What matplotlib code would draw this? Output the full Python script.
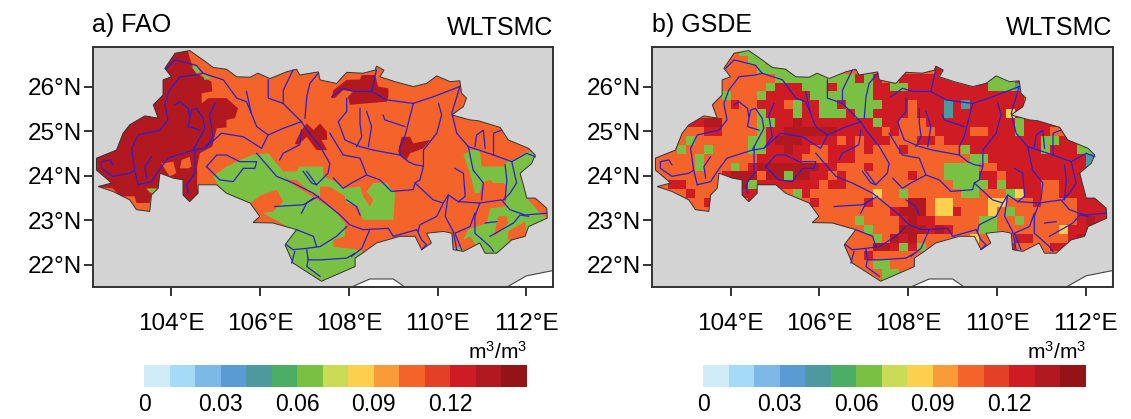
import matplotlib
matplotlib.use("Agg")
import matplotlib.pyplot as plt
import numpy as np
from matplotlib.colors import ListedColormap, BoundaryNorm
from matplotlib.patches import Polygon

plt.rcParams["font.family"] = ["Liberation Sans", "DejaVu Sans"]
plt.rcParams["mathtext.default"] = "regular"

# colour levels of the soil moisture scale
level_edges = np.arange(0, 0.151, 0.01)
level_colors = ["#D0ECF9", "#A5DBF6", "#7DB9E6", "#5A9BD5", "#4C9AA0", "#4BAE64", "#7AC143", "#CADB55",
                "#FBD04F", "#F89B38", "#F4632A", "#E34026", "#CF1C24", "#B2181F", "#941317"]
cbar_ticks = [0, 0.03, 0.06, 0.09, 0.12]
cbar_labels = ["0", "0.03", "0.06", "0.09", "0.12"]
lon_ticks = [104, 106, 108, 110, 112]
lat_ticks = [22, 23, 24, 25, 26]

# WLTSMC of the main classes
orange_val = 0.105
dark_val = 0.135
green_val = 0.065

# basin outline (lon, lat)
basin = [(103.85,26.42),(104.08,26.76),(104.41,26.82),(104.71,26.61),(104.94,26.44),(105.24,26.40),(105.47,26.23),
 (105.77,26.22),(105.95,26.31),(106.22,26.19),(106.59,26.34),(106.82,26.40),(106.89,26.27),(107.31,26.34),(107.35,26.16),
 (107.72,26.08),(107.95,26.33),(108.32,26.31),(108.59,26.38),(108.62,26.47),(108.79,26.38),(108.70,26.23),(109.04,26.12),
 (109.45,26.01),(109.75,26.08),(109.98,26.25),(110.28,26.12),(110.50,26.14),(110.54,25.86),(110.65,25.75),(110.58,25.56),
 (110.32,25.37),(110.73,25.26),(110.92,25.24),(111.41,25.09),(111.59,24.81),(112.05,24.62),(112.20,24.47),(112.12,24.28),
 (111.86,24.06),(112.01,23.50),(112.20,23.50),(112.46,23.27),(112.47,23.05),(112.05,22.86),(111.97,22.64),(111.67,22.56),
 (111.33,22.26),(111.07,22.26),(110.95,22.49),(110.58,22.30),(110.35,22.34),(110.32,22.71),(110.13,22.75),(109.75,22.71),
 (109.86,22.49),(109.64,22.34),(109.49,22.64),(109.15,22.64),(108.62,22.49),(108.36,22.30),(108.14,22.15),(108.14,21.96),
 (107.38,21.63),(106.74,22.04),(106.56,22.45),(106.82,22.79),(106.29,22.94),(105.84,22.95),(105.99,23.09),(105.77,23.39),
 (105.24,23.61),(105.02,23.80),(104.60,23.80),(104.60,23.61),(104.41,23.42),(104.26,23.57),(104.26,23.91),(104.04,23.95),
 (103.74,24.06),(103.70,23.72),(103.55,23.57),(103.51,23.20),(103.21,23.24),(103.06,23.46),(102.68,23.65),(102.35,23.76),
 (102.65,23.84),(102.31,24.13),(102.31,24.40),(102.76,24.58),(102.91,24.96),(103.06,25.15),(103.40,25.35),(103.70,25.30),
 (103.59,25.60),(103.81,25.82),(103.81,26.16),(104.00,26.23)]

# white sea areas at the bottom of the map
sea_1 = [(108.06,21.5),(108.47,21.68),(109.0,21.68),(109.26,21.5)]
sea_2 = [(111.56,21.5),(112.0,21.75),(112.6,21.87),(112.6,21.5)]

# FAO classes, dark red areas
fao_dark = [
 [(103.44,26.91),(104.34,26.91),(104.45,26.53),(104.56,26.31),(104.90,26.12),(104.92,25.90),(104.68,25.86),(104.68,25.63),
  (104.83,25.75),(105.24,25.75),(105.50,25.52),(105.43,25.30),(105.24,25.26),(105.24,25.09),(105.02,25.07),(104.92,24.66),
  (104.64,24.51),(104.58,24.21),(104.58,23.76),(104.68,23.31),(104.19,23.31),(104.04,23.95),(103.74,24.06),(103.71,23.72),
  (103.44,23.72),(103.55,23.61),(103.51,23.39),(103.21,23.39),(103.17,23.54),(102.83,23.54),(102.68,23.72),(102.16,23.76),(102.08,24.81)],
 [(106.78,24.73),(106.93,25.03),(107.05,25.18),(107.20,25.03),(107.35,25.18),(107.50,25.00),(107.51,24.81),(107.38,24.81),
  (107.51,24.58),(107.27,24.58),(107.05,24.88),(106.86,24.70)],
 [(107.61,25.75),(107.65,25.93),(107.95,26.16),(108.25,26.17),(108.29,26.27),(108.59,26.27),(108.66,26.01),(108.89,25.97),
  (108.89,25.78),(108.85,25.67),(108.02,25.60),(107.98,25.78),(108.10,25.90),(107.87,25.93),(107.68,25.75)],
 [(109.11,24.55),(109.19,24.88),(109.38,24.88),(109.45,24.73),(109.83,24.81),(109.68,24.62),(109.38,24.51),(109.30,24.36),(109.15,24.47)],
]
# FAO classes, green areas
fao_green = [
 [(104.94,23.99),(105.24,24.21),(105.80,24.47),(106.18,24.51),(106.52,24.10),(106.63,23.87),(107.12,23.57),(107.65,23.24),
  (107.91,22.94),(107.91,22.64),(107.65,22.56),(107.65,22.41),(108.21,22.34),(108.40,22.26),(108.14,21.89),(107.38,21.59),
  (106.74,21.96),(106.44,22.41),(106.74,22.79),(106.07,23.16),(106.29,23.20),(106.52,23.42),(106.37,23.69),(106.03,23.57),
  (105.77,23.39),(105.17,23.57)],
 [(106.52,24.10),(106.82,24.10),(106.89,24.21),(107.42,24.21),(107.42,23.99),(107.76,23.84),(107.87,23.72),(108.25,23.76),
  (108.32,23.54),(108.47,23.31),(108.55,23.46),(108.40,23.65),(108.55,23.84),(108.85,23.84),(109.04,23.61),(109.00,23.01),
  (108.32,23.01),(108.21,23.31),(107.95,23.39),(107.91,23.54),(107.57,23.76),(107.35,23.76),(107.35,23.54),(107.12,23.65),
  (106.82,23.91),(106.63,23.91)],
 [(110.58,24.47),(110.73,24.58),(110.95,24.58),(110.99,24.21),(111.48,24.21),(111.56,24.32),(111.71,24.36),(112.01,24.55),
  (112.27,24.51),(112.08,24.21),(111.86,23.99),(112.05,23.46),(112.46,23.16),(112.42,22.86),(112.01,22.64),(111.71,22.49),
  (111.33,22.19),(111.03,22.19),(110.73,22.64),(110.58,22.56),(110.69,22.79),(111.11,22.94),(111.18,23.27),(111.52,23.31),
  (111.56,23.76),(111.48,23.84),(111.26,23.84),(111.18,23.91),(110.99,23.84),(110.95,23.61),(110.84,23.61),(110.73,24.06)],
 [(110.35,22.37),(110.54,22.41),(110.58,22.22),(110.32,22.22)],
 [(104.45,26.46),(104.60,26.46),(104.64,26.34),(104.56,26.31)],
 [(104.68,26.31),(104.90,26.19),(104.75,26.16)],
 [(103.44,23.71),(103.71,23.71),(103.62,23.61),(103.51,23.63)],
]
# FAO classes, orange areas lying on top of the others
fao_orange = [
 [(103.77,24.28),(104.04,24.32),(104.11,24.06),(103.96,23.99)],
 [(104.19,24.17),(104.23,24.36),(104.41,24.43),(104.45,24.21),(104.38,24.17)],
 [(112.01,23.50),(112.55,23.31),(112.55,23.01),(112.31,23.16)],
 [(111.59,22.56),(111.59,22.75),(111.97,22.97),(112.01,22.64),(111.71,22.52)],
 [(111.26,22.64),(111.37,23.09),(111.56,23.09),(111.59,22.94),(111.41,22.75)],
]

# rivers (lon, lat)
rivers = [
 [(102.68,24.25),(102.61,24.36),(102.42,24.32),(102.42,24.17),(102.68,23.99),(103.06,24.06),(103.17,24.13),(103.10,24.62),
  (103.25,24.92),(103.74,25.03),(103.92,25.26),(103.85,25.63),(103.96,25.93),(104.19,26.23),(104.56,26.27),(104.71,26.31),
  (105.17,26.16),(105.47,25.75),(105.69,25.67),(105.80,25.41),(105.92,25.11),(106.18,24.92),(106.52,25.07),(106.93,25.22)],
 [(103.89,26.42),(104.08,26.61),(104.56,26.49),(104.71,26.31)],
 [(103.25,23.80),(103.17,24.13)],
 [(103.44,23.95),(103.40,24.21),(103.55,24.43)],
 [(103.25,23.80),(103.55,23.87),(103.70,24.10),(103.92,24.40),(104.49,24.58),(104.75,25.07),(104.71,25.30),(104.56,25.52),
  (104.45,25.48),(104.38,25.11),(104.64,25.03)],
 [(104.08,25.60),(104.19,25.67),(104.38,25.52),(104.41,25.33)],
 [(104.49,24.58),(104.75,24.62),(105.13,24.96),(105.62,24.88),(106.03,24.62),(106.18,24.92)],
 [(104.75,24.62),(104.94,24.88),(104.86,25.37),(104.98,25.63)],
 [(104.53,24.66),(104.53,24.06),(104.34,23.80),(104.38,23.61)],
 [(104.79,24.21),(105.02,24.47),(105.24,24.47),(105.54,24.32),(105.92,24.32),(105.88,24.17),(105.62,24.17),(105.39,23.87),(105.09,23.91),(104.79,24.21)],
 [(105.92,24.51),(106.37,23.99),(106.74,23.84),(107.20,23.61),(107.80,23.12),(108.02,22.90),(108.32,22.79),(108.89,22.82),
  (109.00,22.64),(109.53,22.79),(109.64,22.56),(109.75,22.45),(109.64,22.34)],
 [(106.93,25.22),(107.05,25.03),(107.35,24.66),(107.57,24.28),(107.53,24.06),(107.27,23.80),(107.05,24.10)],
 [(106.44,24.36),(106.52,24.51),(106.89,24.70),(106.93,25.03)],
 [(106.18,26.16),(106.18,25.75),(106.52,25.63),(106.93,25.22)],
 [(106.74,26.38),(106.52,25.93),(106.52,25.63)],
 [(107.31,26.31),(107.12,26.08),(107.05,25.78),(107.01,25.30)],
 [(105.69,25.90),(105.80,25.41)],
 [(107.61,25.78),(107.87,25.97),(108.10,25.90),(108.51,25.90),(108.62,26.38)],
 [(108.51,25.90),(108.85,25.71),(109.45,25.63),(109.90,25.78),(110.50,26.01)],
 [(107.95,25.75),(107.95,25.45),(107.76,25.22),(107.91,24.81),(108.25,24.66),(108.55,24.58),(109.15,24.47),(109.34,24.32),(109.49,24.25),(109.68,24.22)],
 [(109.45,25.63),(109.26,24.88),(109.15,24.66),(109.15,24.47)],
 [(108.25,25.52),(108.25,25.18),(108.29,24.88),(108.17,24.66)],
 [(108.40,25.45),(108.51,25.11),(108.44,24.66)],
 [(108.77,25.37),(108.81,25.26),(109.26,25.11)],
 [(110.02,25.63),(110.09,25.37),(109.98,24.96),(109.68,24.58),(109.68,24.22),(109.60,23.91),(109.49,23.84)],
 [(107.57,24.96),(107.87,24.47),(108.25,24.40),(108.40,24.02),(108.06,23.84),(107.87,23.72),(107.65,23.95)],
 [(108.40,24.02),(108.70,23.91),(108.96,23.65),(109.45,23.69),(109.49,23.84),(109.90,23.46),(110.13,23.39),(110.24,23.57),
  (110.47,23.42),(110.95,23.39),(111.44,23.46),(111.63,23.24),(111.97,23.12),(112.46,23.16)],
 [(110.50,26.01),(110.32,25.41),(110.43,24.96),(110.69,24.66),(110.80,24.13),(111.03,23.84),(110.99,23.46)],
 [(110.69,24.66),(111.26,24.47),(111.67,24.32),(112.01,24.51),(112.20,24.43)],
 [(110.84,24.66),(110.88,24.92),(111.03,25.03),(111.07,24.62)],
 [(111.26,24.47),(111.26,24.96),(111.44,25.03)],
 [(111.52,24.25),(111.56,23.91),(111.52,23.46)],
 [(111.67,24.32),(111.78,23.84),(111.63,23.61),(111.48,23.46)],
 [(110.39,24.17),(110.58,24.06),(110.62,23.54),(110.47,23.42)],
 [(110.13,23.39),(109.98,23.09),(109.60,22.90),(109.56,22.75)],
 [(110.24,23.57),(110.17,23.09),(110.35,22.75),(110.43,22.34)],
 [(110.95,23.39),(110.84,23.09),(110.84,22.71),(111.18,22.41),(111.26,22.30)],
 [(111.07,22.94),(111.33,22.97)],
 [(110.84,23.16),(110.73,22.86),(110.39,22.71),(110.54,22.34)],
 [(111.18,22.64),(111.71,22.94),(111.86,23.12),(112.05,23.09)],
 [(106.33,23.31),(106.97,23.35),(107.31,23.54)],
 [(106.93,23.16),(107.05,23.39),(107.20,23.50)],
 [(108.47,22.79),(108.29,22.37),(108.06,22.19)],
 [(107.95,22.86),(107.72,22.64),(107.35,22.41),(107.05,22.37),(106.74,22.34),(106.59,22.45)],
 [(106.82,22.79),(107.20,22.64),(107.27,22.41)],
 [(107.05,22.34),(107.08,22.11),(107.35,22.11),(107.95,22.15),(108.14,22.26)],
 [(106.78,22.30),(106.71,22.04)],
 [(107.08,22.11),(107.05,21.96),(107.35,21.74)],
 [(106.97,24.10),(107.16,23.84),(107.27,23.80)],
 [(107.95,23.46),(108.17,23.31),(108.25,23.12)],
]

# GSDE classes on a 0.2 degree grid, north to south
gsde_codes = {"O": 0.105, "R": 0.125, "D": 0.135, "G": 0.065, "Y": 0.085, "T": 0.045, ".": 0.105}
gsde_lon0 = 102.2
gsde_lat0 = 26.9
gsde_step = 0.2
gsde_rows = [
 "........OO GG........ .......... .......... .......... ..",
 "........OO OGG....... .......... .......... .......... ..",
 "........OO OOGGGG.... .......... ..RR...... .......... ..",
 "........OO OOOOGGGGGG GGGRGR..RR RRRRRR..GG GR........ ..",
 "........OO OOOGRRRGGG RGGGGRRGGR RRRRRRRRGG GT........ ..",
 "........GO OOGRRRRRGG GGGGGRRRRR RRRRRRRRRR RR........ ..",
 ".......OOR OORRROGRRG GRGGGGRRRO RRRTRTRRRR RRO....... ..",
 "........OO OOGRRRGRRG GGRGGRRRRO RRRTRRRRRR YRR....... ..",
 "....RRDDOO OOGGRRDRRR RRRRRGRROO ORRRRRRRRR RGRRRRR... ..",
 "....OORROO OOGRRDDDDD DRRRRROROO OORRRROORR RGRRROOR.. ..",
 "....GOOOOO OGGRDDDRRR RORORRROOO RRORRRRRRR RRRRGGRRGG ..",
 "...GOOGOOO OGGRRDRROO RRROROOORO OOOOOGRRRR RRRRGRRRGG G.",
 ".OOOOGOOOO OORRRRROOO RRROOOOOOO OOOOOOGGRR RRRRRRRRRT ..",
 ".OOOOGOOOG ORDDDDDDDR ROOOROOOOO OOOGGGGOOR RRRRRRRRRT ..",
 "..OOOOOORD DDODDGDDRR OROOOOOOOR OOOGGGGRRO RRRRRRRRRO ..",
 "..RROOOOOO DGRRRRRRRO RROOOOOOOO OOOOGGGGRG RRRROORRRO ..",
 "...OROOOO. RR....GROO OOOOOYOOGO OOOOOGGOOO GYRROORRRR ..",
 "....OORO.. .R.....ORO OOOOROOOOD DOYYOOOOYY OOOROOOORR RO",
 "......OG.. ........OO OOOOOOORDD DOYYROOOYO GOOOOOOORR RR",
 ".......... .........O OOOGOOOORD RROOOOOGGO OGOOOOOORD RR",
 ".......... .......... .OOOGOOODD DRDROOOGGO OOOOOOYRRR ..",
 ".......... .......... ..OOOGODRD OOOOOOYOOO ORROOOORDD ..",
 ".......... .......... ..OOODDRGR GO.....OO. ROO..RROR. ..",
 ".......... .......... ...OROOOOO O......... .......... ..",
 ".......... .......... ....OGGOOO .......... .......... ..",
 ".......... .......... ......GGOO .......... .......... ..",
 ".......... .......... ......GG.. .......... .......... ..",
]

W, H = 1131, 419
fig = plt.figure(figsize=(W / 100, H / 100), dpi=100)
cmap = ListedColormap(level_colors)
norm = BoundaryNorm(level_edges, cmap.N)


def add_axes_px(left, top, right, bottom):
    return fig.add_axes([left / W, 1 - bottom / H, (right - left) / W, (bottom - top) / H])


def base_map(ax):
    ax.set_facecolor("#D3D3D3")
    ax.set_xlim(102.22, 112.6)
    ax.set_ylim(21.5, 26.9)
    for sea in (sea_1, sea_2):
        ax.add_patch(Polygon(sea, closed=True, fc="white", ec="#444444", lw=0.8, zorder=1))
    ax.set_xticks(lon_ticks)
    ax.set_xticklabels([f"{v}°E" for v in lon_ticks], fontsize=17.5)
    ax.set_yticks(lat_ticks)
    ax.set_yticklabels([f"{v}°N" for v in lat_ticks], fontsize=17.5)
    ax.tick_params(length=6.5, width=1.3, color="#222222")
    ax.tick_params(axis="x", pad=12)
    ax.tick_params(axis="y", pad=1)
    for s in ax.spines.values():
        s.set_linewidth(1.4)
        s.set_color("#333333")


def finish_map(ax):
    ax.add_patch(Polygon(basin, closed=True, fc="none", ec="#333333", lw=0.7, zorder=4))
    for r in rivers:
        xs, ys = zip(*r)
        ax.plot(xs, ys, color="#2A20D0", lw=0.9, zorder=5)


def colorbar_px(mappable, left, right):
    cax = add_axes_px(left, 365, right, 387)
    cb = fig.colorbar(mappable, cax=cax, orientation="horizontal", spacing="proportional")
    cb.set_ticks(cbar_ticks)
    cb.set_ticklabels(cbar_labels)
    cb.ax.tick_params(length=0, labelsize=16.5, pad=4)
    cb.ax.minorticks_off()
    cb.outline.set_visible(False)
    fig.text(right / W, 1 - 352 / H, r"m$^3$/m$^3$", ha="right", va="center", fontsize=15)


# panel a
ax_a = add_axes_px(92.5, 47, 553, 287)
base_map(ax_a)
clip_a = Polygon(basin, closed=True, transform=ax_a.transData, fc="none", ec="none")
ax_a.add_patch(clip_a)
layers = [([basin], orange_val, 2), (fao_dark, dark_val, 2.1), (fao_green, green_val, 2.2), (fao_orange, orange_val, 2.3)]
for polys, val, z in layers:
    for p in polys:
        patch = Polygon(p, closed=True, fc=cmap(norm(val)), ec="none", zorder=z)
        ax_a.add_patch(patch)
        patch.set_clip_path(clip_a)
finish_map(ax_a)
ax_a.text(0.0, 1.09, "a) FAO", transform=ax_a.transAxes, fontsize=18, ha="left", va="center")
ax_a.text(1.0, 1.08, "WLTSMC", transform=ax_a.transAxes, fontsize=18, ha="right", va="center")

# panel b
ax_b = add_axes_px(651.5, 47, 1112.5, 287)
base_map(ax_b)
gsde = np.array([[gsde_codes[c] for c in row.replace(" ", "")] for row in gsde_rows])
lon_edges = gsde_lon0 + gsde_step * np.arange(gsde.shape[1] + 1)
lat_edges = gsde_lat0 - gsde_step * np.arange(gsde.shape[0] + 1)
mesh = ax_b.pcolormesh(lon_edges, lat_edges, gsde, cmap=cmap, norm=norm, zorder=2)
clip_b = Polygon(basin, closed=True, transform=ax_b.transData, fc="none", ec="none")
ax_b.add_patch(clip_b)
mesh.set_clip_path(clip_b)
finish_map(ax_b)
ax_b.text(0.0, 1.09, "b) GSDE", transform=ax_b.transAxes, fontsize=18, ha="left", va="center")
ax_b.text(1.0, 1.08, "WLTSMC", transform=ax_b.transAxes, fontsize=18, ha="right", va="center")

colorbar_px(mesh, 144.3, 526.7)
colorbar_px(mesh, 703.3, 1085.7)

fig.savefig("out.png", dpi=100)
